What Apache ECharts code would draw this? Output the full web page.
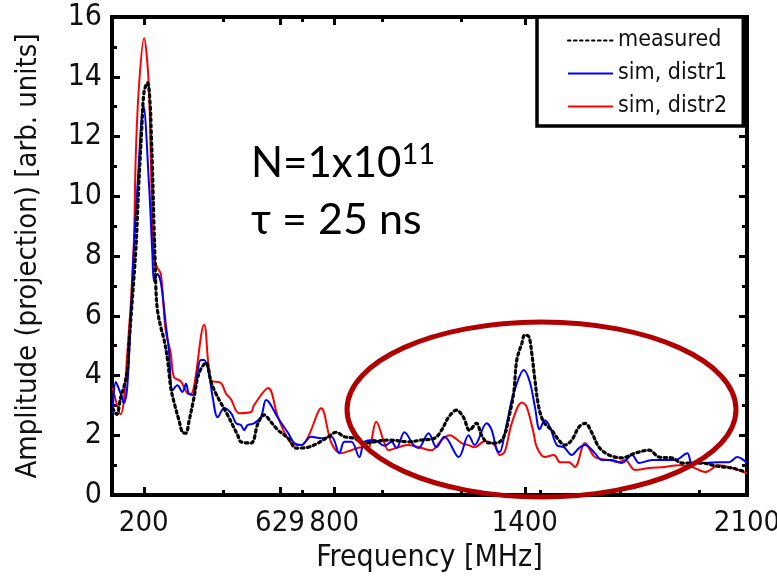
<!DOCTYPE html>
<html><head><meta charset="utf-8">
<script src="https://cdn.jsdelivr.net/npm/echarts@6/dist/echarts.min.js"></script>
<style>html,body{margin:0;padding:0;background:#fff}#c{width:777px;height:582px}</style>
</head><body><div id="c"></div>
<script>
// ---- data ----
const measuredFreq = [102,115,127,137,149,153,175,184,193,201,212,220,224,227,232,235,238,243,254,264,275,285,296,311,322,333,342,358,374,396,412,427,443,464,480,496,506,538,560,579,601,623,655,680,718,749,781,806,832,863,895,926,971,1034,1075,1116,1138,1160,1185,1207,1226,1248,1264,1286,1312,1334,1350,1365,1375,1391,1400,1413,1422,1432,1444,1460,1485,1507,1526,1548,1571,1590,1612,1634,1665,1706,1747,1792,1823,1864,1896,1927,1959,1991,2022,2054,2095];
const measuredAmp  = [2.9,2.7,3.25,3.6,4.2,4.97,8.2,10.3,12.1,13.5,13.8,13.1,12.0,11.1,9.1,8.1,6.97,6.2,5.6,5.2,4.52,3.6,3.08,2.5,2.1,2.07,2.44,3.25,4.08,4.42,3.78,3.4,3.08,2.68,2.34,2.0,1.78,1.74,2.4,2.68,2.44,2.17,1.9,1.57,1.6,1.74,1.95,2.1,1.95,1.9,1.74,1.78,1.84,1.78,1.84,1.9,2.17,2.6,2.84,2.6,2.17,2.4,2.0,1.74,1.74,1.95,2.6,3.4,4.52,5.08,5.36,5.3,4.75,3.85,2.95,2.44,2.17,1.84,1.67,1.84,2.28,2.4,2.07,1.6,1.34,1.24,1.4,1.5,1.27,1.24,1.07,1.07,1.07,1.0,0.94,0.9,0.77];

const distr1Freq = [102,112,127,137,149,168,180,199,217,227,233,243,254,269,279,291,306,322,333,342,354,380,390,405,417,433,453,475,491,506,516,527,547,569,585,595,623,655,674,696,727,759,791,816,832,854,879,895,926,958,980,996,1021,1050,1065,1097,1122,1147,1192,1223,1242,1280,1296,1312,1321,1337,1359,1368,1397,1416,1432,1447,1463,1479,1501,1523,1548,1571,1590,1621,1643,1675,1706,1738,1760,1801,1842,1874,1912,1927,1968,2013,2044,2069,2100];
const distr1Amp  = [2.74,3.78,3.4,3.08,3.75,8.1,10.3,13.02,10.3,8.1,7.13,7.4,7.1,5.75,4.85,3.5,3.67,3.45,3.72,3.4,3.35,4.52,4.52,4.08,3.28,2.6,2.9,2.74,2.4,2.34,2.17,2.34,2.4,2.6,3.18,3.1,2.58,2.07,1.74,1.67,1.95,1.9,1.95,1.4,1.78,1.78,1.27,1.78,1.84,1.65,1.78,1.57,2.1,1.67,1.57,2.07,1.6,1.95,1.27,2.0,1.67,2.4,2.17,1.5,1.44,2.07,3.18,3.52,4.18,3.78,2.95,2.2,2.5,2.28,1.67,1.6,1.34,1.57,1.67,1.4,1.17,1.17,1.07,1.34,1.07,1.17,1.17,1.17,1.4,1.07,1.07,1.1,1.1,1.27,1.07];

const distr2Freq = [102,127,149,168,175,185,201,215,222,231,243,254,269,285,295,317,338,348,390,412,443,459,475,500,538,547,592,623,664,696,718,759,791,822,854,885,907,932,958,971,1002,1034,1075,1106,1138,1163,1201,1223,1242,1274,1305,1321,1337,1359,1391,1406,1428,1438,1463,1492,1511,1539,1558,1590,1621,1665,1697,1716,1747,1792,1842,1886,1927,1968,2013,2054,2100];
const distr2Amp  = [3.6,2.7,4.85,8.2,11.4,13.7,15.3,13.9,11.4,8.0,7.6,7.4,5.5,4.75,3.95,3.8,3.4,3.38,5.7,3.85,3.75,3.4,3.2,2.74,2.78,3.0,3.58,2.6,1.74,1.67,1.95,2.9,1.74,1.4,1.5,1.6,1.6,2.45,1.74,1.5,1.6,1.67,1.57,1.5,1.84,2.0,1.74,1.67,1.6,1.8,1.67,1.34,1.45,2.4,3.1,2.95,2.07,1.6,1.27,1.34,1.1,1.1,0.94,1.74,1.27,1.17,1.1,1.17,0.84,0.9,0.94,1.0,0.94,0.77,1.0,0.9,0.73];

const seriesNames = ['measured','sim, distr1','sim, distr2'];
const xLabelTicks = [200,629,800,1400,2100];
const xMinorTicks = [450,700,950,1200,1450,1700,1950];
const xTitle = 'Frequency [MHz]';
const yTitle = 'Amplitude (projection) [arb. units]';

const zip = (a,b) => a.map((v,i)=>[v,b[i]]);
const axisFont = "'Liberation Sans Narrow','DejaVu Sans Condensed','Liberation Sans',sans-serif";
const annFont = "Lato, 'Open Sans', sans-serif";

const chart = echarts.init(document.getElementById('c'), null, {renderer:'canvas'});
const xBase = {type:'value', min:100, max:2100, splitLine:{show:false}, axisLine:{show:false}};
const yBase = {type:'value', min:0, max:16, interval:2, splitLine:{show:false}, axisLine:{show:false}};
chart.setOption({
  animation:false,
  grid:{left:112, top:17, right:30, bottom:87, outerBoundsMode:'none', containLabel:false,
        show:true, borderColor:'#000', borderWidth:4, backgroundColor:'transparent'},
  legend:{
    left:537, top:17, orient:'vertical', align:'left',
    backgroundColor:'#fff', borderColor:'#000', borderWidth:3.5,
    padding:[12,16,8,30], itemGap:10, itemWidth:45, itemHeight:14,
    itemStyle:{opacity:0},
    textStyle:{fontFamily:axisFont, fontSize:23, color:'#111'},
    data:seriesNames
  },
  xAxis:[
    Object.assign({}, xBase, {position:'bottom',
      name:xTitle, nameLocation:'middle', nameGap:47,
      nameTextStyle:{fontFamily:axisFont, fontSize:30, color:'#111'},
      axisTick:{inside:true, length:8, lineStyle:{width:3,color:'#000'}, customValues:xLabelTicks},
      axisLabel:{fontFamily:axisFont, fontSize:29, color:'#111', margin:14, customValues:xLabelTicks,
                 formatter:v=>String(v)}}),
    Object.assign({}, xBase, {position:'bottom',
      axisTick:{inside:true, length:5, lineStyle:{width:3,color:'#000'}, customValues:xMinorTicks},
      axisLabel:{show:false}}),
    Object.assign({}, xBase, {position:'top',
      axisTick:{inside:true, length:8, lineStyle:{width:3,color:'#000'}, customValues:xLabelTicks},
      axisLabel:{show:false}}),
    Object.assign({}, xBase, {position:'top',
      axisTick:{inside:true, length:5, lineStyle:{width:3,color:'#000'}, customValues:xMinorTicks},
      axisLabel:{show:false}})
  ],
  yAxis:[
    Object.assign({}, yBase, {position:'left',
      name:yTitle, nameLocation:'middle', nameGap:69,
      nameTextStyle:{fontFamily:axisFont, fontSize:29, color:'#111'},
      axisTick:{inside:true, length:8, lineStyle:{width:3,color:'#000'}},
      minorTick:{show:true, splitNumber:2, length:5, lineStyle:{width:3,color:'#000'}},
      axisLabel:{fontFamily:axisFont, fontSize:30, color:'#111', margin:10}}),
    Object.assign({}, yBase, {position:'right',
      axisTick:{inside:true, length:8, lineStyle:{width:3,color:'#000'}},
      minorTick:{show:true, splitNumber:2, length:5, lineStyle:{width:3,color:'#000'}},
      axisLabel:{show:false}})
  ],
  series:[
    {name:seriesNames[0], type:'line', data:zip(measuredFreq,measuredAmp), smooth:0.35, showSymbol:false, symbol:'none',
     color:'#000', lineStyle:{color:'#000', width:3.2, type:[2.5,3.5], cap:'round'}, z:3},
    {name:seriesNames[1], type:'line', data:zip(distr1Freq,distr1Amp), smooth:0.35, showSymbol:false, symbol:'none',
     color:'#0000ff', lineStyle:{color:'#0000ff', width:2}, z:2},
    {name:seriesNames[2], type:'line', data:zip(distr2Freq,distr2Amp), smooth:0.35, showSymbol:false, symbol:'none',
     color:'#ff0000', lineStyle:{color:'#ff0000', width:2}, z:1}
  ],
  graphic:[
    {type:'text', left:251, top:140, z:50, style:{
      text:'{a|N=1x10}{s|11}', fill:'#000',
      rich:{a:{fontFamily:annFont, fontSize:42, fill:'#000'},
            s:{fontFamily:annFont, fontSize:29, fill:'#000', verticalAlign:'top', padding:[0,0,18,0]}}}},
    {type:'text', left:251, top:199, z:50, style:{text:'τ = 25 ns', fontFamily:annFont, fontSize:43, fill:'#000'}},
    {type:'ellipse', z:100, shape:{cx:541.5, cy:409.5, rx:194.5, ry:87.5}, style:{fill:'none', stroke:'#b00000', lineWidth:5}}
  ]
});
</script></body></html>
